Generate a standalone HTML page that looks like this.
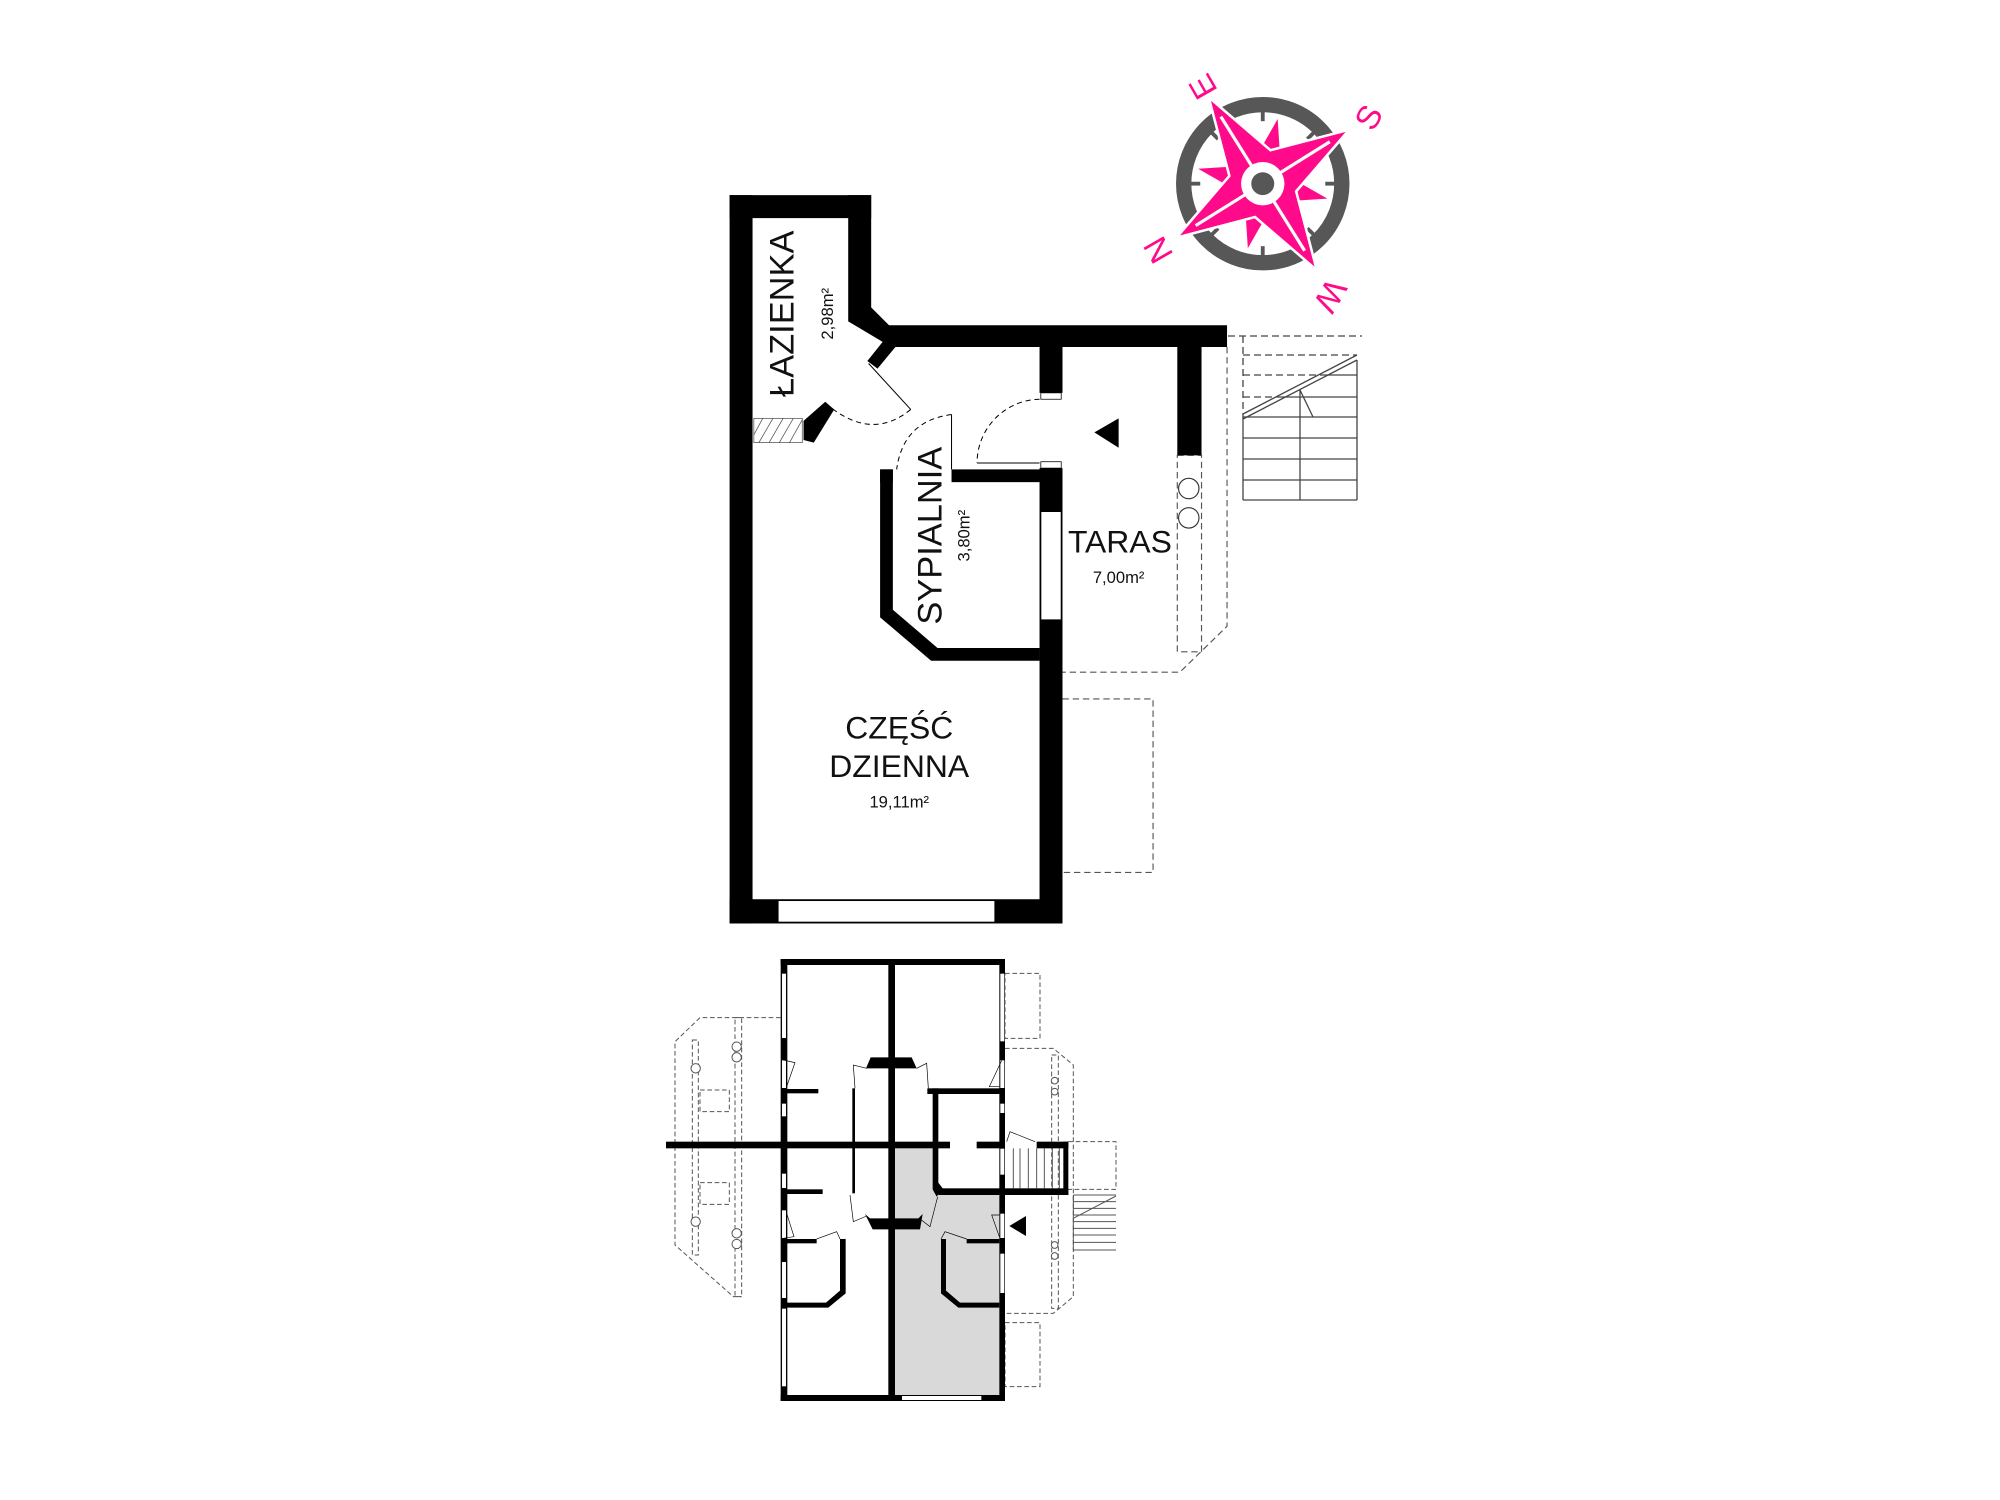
<!DOCTYPE html>
<html><head><meta charset="utf-8"><style>
html,body{margin:0;padding:0;background:#fff;}
svg{display:block;}
text{font-family:"Liberation Sans",sans-serif;}
</style></head><body>
<svg width="2000" height="1500" viewBox="0 0 2000 1500" xmlns="http://www.w3.org/2000/svg">
<rect width="2000" height="1500" fill="#fff"/>
<g transform="scale(1.27551)">
  <g fill="none" stroke="#555" stroke-width="0.9" stroke-dasharray="5,3">
    <path d="M962 272 V491 L925 527 H833"/>
    <rect x="923" y="357" width="19" height="154"/>
    <path d="M833 548 H904 V684 H833"/>
  </g>
  <circle cx="932" cy="383" r="8" fill="#fff" stroke="#333" stroke-width="0.9"/>
  <circle cx="932" cy="406" r="8" fill="#fff" stroke="#333" stroke-width="0.9"/>
  <g fill="#000">
    <rect x="572" y="153" width="18" height="571"/>
    <rect x="572" y="153" width="111" height="18"/>
    <polygon points="665,153 683,153 683,241 697,255 962,255 962,272 702,272 688,289 680,283 692,268 665,252"/>
    <polygon points="647,315 654,321 638,347 630,345 630,330"/>
    <rect x="815" y="272" width="18" height="36"/>
    <rect x="815" y="367" width="18" height="357"/>
    <rect x="923" y="272" width="19" height="85"/>
    <rect x="746" y="368" width="87" height="10"/>
    <rect x="690" y="368" width="10" height="10"/>
    <polygon points="690,368 700,368 700,478 735,508 815,508 815,518 730,518 690,484"/>
    <rect x="572" y="705" width="261" height="19"/>
  </g>
  <rect x="610" y="706" width="170" height="17" fill="#fff" stroke="#000" stroke-width="0.8"/>
  <rect x="816" y="401" width="16" height="85" fill="#fff" stroke="#000" stroke-width="0.8"/>
  <rect x="816" y="308" width="16" height="5" fill="#fff" stroke="#000" stroke-width="0.6"/>
  <rect x="816" y="362" width="16" height="5" fill="#fff" stroke="#000" stroke-width="0.6"/>
  <g>
    <rect x="591" y="328" width="38" height="19" fill="#fff" stroke="#555" stroke-width="0.6"/>
    <g stroke="#555" stroke-width="0.6">
      <line x1="591" y1="341" x2="598" y2="328"/><line x1="595" y1="347" x2="606" y2="328"/>
      <line x1="603" y1="347" x2="614" y2="328"/><line x1="611" y1="347" x2="622" y2="328"/>
      <line x1="619" y1="347" x2="629" y2="329"/>
    </g>
  </g>
  <g fill="none" stroke="#000" stroke-width="0.8">
    <line x1="681" y1="285" x2="714" y2="321"/>
    <path d="M714 321 Q685 345 652 320" stroke-dasharray="4,3"/>
    <line x1="766" y1="363" x2="815" y2="363"/>
    <path d="M815 313 A50 50 0 0 0 766 363" stroke-dasharray="4,3"/>
    <line x1="746" y1="325" x2="746" y2="368"/>
    <path d="M746 325 Q708 330 703 368" stroke-dasharray="4,3"/>
  </g>
  <polygon points="858,339 877,328 877,351" fill="#000"/>
  <g fill="#111">
    <text transform="translate(622,246) rotate(-90)" font-size="27" text-anchor="middle">ŁAZIENKA</text>
    <text transform="translate(653,246) rotate(-90)" font-size="13" text-anchor="middle">2,98m²</text>
    <text transform="translate(738,420) rotate(-90)" font-size="27" text-anchor="middle">SYPIALNIA</text>
    <text transform="translate(760,420) rotate(-90)" font-size="13" text-anchor="middle">3,80m²</text>
    <text x="878" y="433" font-size="25" text-anchor="middle">TARAS</text>
    <text x="877" y="457" font-size="13" text-anchor="middle">7,00m²</text>
    <text x="705" y="579" font-size="25" text-anchor="middle">CZĘŚĆ</text>
    <text x="705" y="609" font-size="25" text-anchor="middle">DZIENNA</text>
    <text x="705" y="633" font-size="13" text-anchor="middle">19,11m²</text>
  </g>
  <g transform="translate(990,144)">
    <circle r="62" fill="none" stroke="#575757" stroke-width="12"/>
    <g stroke="#575757" stroke-width="3">
      <line x1="0" y1="-57" x2="0" y2="-49"/><line x1="0" y1="57" x2="0" y2="49"/>
      <line x1="57" y1="0" x2="49" y2="0"/><line x1="-57" y1="0" x2="-49" y2="0"/>
      <line x1="40" y1="-40" x2="35" y2="-35"/><line x1="-40" y1="40" x2="-35" y2="35"/>
      <line x1="40" y1="40" x2="35" y2="35"/><line x1="-40" y1="-40" x2="-35" y2="-35"/>
    </g>
    <g transform="rotate(-32)">
      <polygon fill="#ff0a8a" points="0,-52 12,-12 52,0 12,12 0,52 -12,12 -52,0 -12,-12" transform="rotate(45)"/>
      <polygon fill="#ff0a8a" stroke="#fff" stroke-width="2" points="0,-80 19,-19 80,0 19,19 0,80 -19,19 -80,0 -19,-19"/>
      <g stroke="#fff" stroke-width="2.5"><line x1="0" y1="-62" x2="0" y2="0"/><line x1="62" y1="0" x2="0" y2="0"/><line x1="0" y1="62" x2="0" y2="0"/><line x1="-62" y1="0" x2="0" y2="0"/></g>
    </g>
    <circle r="17" fill="#fff"/>
    <circle r="9" fill="#575757"/>
  </g>
  <g fill="#ff0a8a" font-size="26" text-anchor="middle">
    <text transform="translate(943,68) rotate(-120)" dy="9">E</text>
    <text transform="translate(1073,92) rotate(-60)" dy="9">S</text>
    <text transform="translate(908,196) rotate(60)" dy="9">N</text>
    <text transform="translate(1043,232) rotate(120)" dy="9">W</text>
  </g>
</g>
<g fill="none" stroke="#444" stroke-width="1.3">
  <g stroke-dasharray="7,4">
    <line x1="1228" y1="336" x2="1362" y2="336"/>
    <line x1="1243" y1="336" x2="1243" y2="417"/>
    <line x1="1243" y1="355" x2="1357" y2="355"/>
    <line x1="1243" y1="375" x2="1320" y2="375"/>
    <line x1="1243" y1="397" x2="1280" y2="397"/>
  </g>
  <line x1="1320" y1="375" x2="1357" y2="375"/>
  <line x1="1280" y1="397" x2="1357" y2="397"/>
  <line x1="1357" y1="360" x2="1357" y2="500"/>
  <line x1="1243" y1="417" x2="1243" y2="500"/>
  <line x1="1300" y1="390" x2="1300" y2="500"/>
  <line x1="1243" y1="417" x2="1357" y2="417"/>
  <line x1="1243" y1="438" x2="1357" y2="438"/>
  <line x1="1243" y1="459" x2="1357" y2="459"/>
  <line x1="1243" y1="480" x2="1357" y2="480"/>
  <line x1="1243" y1="500" x2="1357" y2="500"/>
  <line x1="1243" y1="414" x2="1357" y2="355"/>
  <line x1="1243" y1="419" x2="1357" y2="360"/>
  <line x1="1300" y1="390" x2="1313" y2="417"/>
</g>
<g transform="translate(640,940) scale(0.33333)">
  <polygon fill="#d9d9d9" points="765,625 878,625 878,730 900,760 1078,760 1078,1365 765,1365"/>
  <g fill="none" stroke="#555" stroke-width="3" stroke-dasharray="14,8">
    <path d="M422 233 H180 L105 305 V915 L280 1070 H305"/>
    <rect x="285" y="233" width="20" height="837"/>
    <rect x="157" y="300" width="18" height="645"/>
    <rect x="180" y="450" width="88" height="65"/>
    <rect x="180" y="728" width="88" height="65"/>
    <rect x="1095" y="100" width="105" height="195"/>
    <rect x="1095" y="1148" width="105" height="192"/>
    <path d="M1095 325 H1240 L1300 375 V1070 L1240 1120 H1095"/>
    <rect x="1235" y="345" width="20" height="760"/>
    <path d="M1285 605 H1428 V748 H1285"/>
  </g>
  <g fill="#fff" stroke="#555" stroke-width="3">
    <circle cx="290" cy="320" r="14"/><circle cx="290" cy="352" r="14"/>
    <circle cx="167" cy="385" r="14"/><circle cx="167" cy="845" r="14"/>
    <circle cx="290" cy="880" r="14"/><circle cx="290" cy="912" r="14"/>
    <circle cx="1244" cy="422" r="10"/><circle cx="1244" cy="455" r="10"/>
    <circle cx="1244" cy="915" r="10"/><circle cx="1244" cy="948" r="10"/>
  </g>
  <g stroke="#555" stroke-width="3">
    <line x1="1300" y1="765" x2="1428" y2="765"/><line x1="1300" y1="785" x2="1428" y2="785"/>
    <line x1="1300" y1="805" x2="1428" y2="805"/><line x1="1300" y1="825" x2="1428" y2="825"/>
    <line x1="1300" y1="845" x2="1428" y2="845"/><line x1="1300" y1="865" x2="1428" y2="865"/>
    <line x1="1300" y1="885" x2="1428" y2="885"/><line x1="1300" y1="907" x2="1428" y2="907"/>
    <line x1="1300" y1="930" x2="1428" y2="930"/><line x1="1300" y1="765" x2="1300" y2="930"/>
    <line x1="1300" y1="835" x2="1428" y2="768"/>
    <line x1="1120" y1="625" x2="1120" y2="745"/><line x1="1140" y1="625" x2="1140" y2="745"/>
    <line x1="1165" y1="625" x2="1165" y2="745"/><line x1="1190" y1="625" x2="1190" y2="745"/>
    <line x1="1213" y1="625" x2="1213" y2="745"/><line x1="1237" y1="625" x2="1237" y2="745"/>
    <line x1="1258" y1="625" x2="1258" y2="745"/>
  </g>
  <g fill="#000">
    <rect x="422" y="57" width="673" height="18"/>
    <rect x="422" y="1365" width="673" height="18"/>
    <rect x="422" y="57" width="20" height="1326"/>
    <rect x="1078" y="57" width="17" height="1326"/>
    <rect x="745" y="57" width="20" height="1326"/>
    <rect x="78" y="605" width="852" height="20"/>
    <rect x="1010" y="605" width="85" height="20"/>
    <polygon points="692,352 815,352 830,385 678,385"/>
    <polygon points="675,822 690,835 835,835 848,822 840,868 698,868"/>
    <rect x="440" y="447" width="95" height="13"/>
    <rect x="440" y="748" width="108" height="14"/>
    <rect x="637" y="445" width="8" height="315"/>
    <rect x="862" y="445" width="230" height="17"/>
    <polygon points="878,445 895,445 895,728 908,745 890,770 878,748"/>
    <rect x="895" y="745" width="390" height="20"/>
    <rect x="1270" y="605" width="15" height="160"/>
    <rect x="1190" y="605" width="95" height="20"/>
    <rect x="440" y="897" width="90" height="13"/>
    <polygon points="600,897 617,897 617,1060 565,1103 440,1103 440,1088 558,1088 600,1052"/>
    <rect x="980" y="897" width="98" height="13"/>
    <polygon points="903,897 918,897 918,1052 960,1088 1078,1088 1078,1103 955,1103 903,1060"/>
    <polygon points="1108,858 1158,828 1158,888"/>
  </g>
  <g fill="#fff" stroke="#000" stroke-width="2">
    <rect x="425" y="100" width="14" height="195"/>
    <rect x="425" y="360" width="14" height="85"/>
    <rect x="425" y="490" width="14" height="40"/>
    <rect x="425" y="700" width="14" height="45"/>
    <rect x="425" y="810" width="14" height="85"/>
    <rect x="425" y="965" width="14" height="110"/>
    <rect x="425" y="1105" width="14" height="235"/>
    <rect x="1080" y="100" width="14" height="205"/>
    <rect x="1080" y="360" width="14" height="85"/>
    <rect x="1080" y="490" width="14" height="30"/>
    <rect x="1080" y="625" width="14" height="80"/>
    <rect x="1080" y="820" width="14" height="75"/>
    <rect x="1080" y="940" width="14" height="120"/>
    <rect x="785" y="1367" width="240" height="14"/>
  </g>
  <g fill="none" stroke="#000" stroke-width="2">
    <path d="M440 440 L465 368 L430 360"/>
    <path d="M440 820 L462 890 L430 895"/>
    <path d="M1078 440 L1048 440 L1085 362"/>
    <path d="M1078 825 L1055 825 L1078 890"/>
    <path d="M645 445 L640 375 L680 385"/>
    <path d="M865 445 L860 370 L830 385"/>
    <path d="M630 765 L640 845 L680 828"/>
    <path d="M893 770 L870 860 L838 835"/>
    <path d="M530 897 L590 875 L600 897"/>
    <path d="M980 897 L915 875 L903 897"/>
    <path d="M1100 605 L1110 575 L1185 605"/>
  </g>
</g>
</svg>
</body></html>
